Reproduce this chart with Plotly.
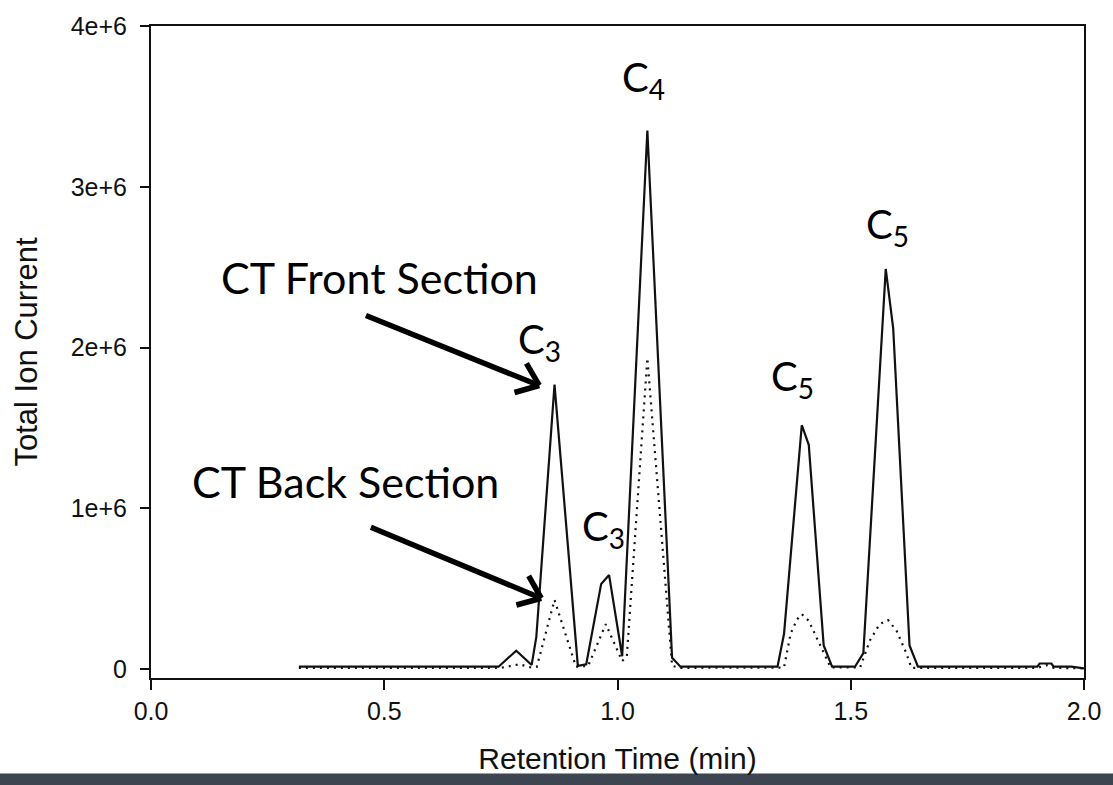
import math
import plotly.graph_objects as go

# ---------------- data ----------------
# CT Front Section (solid line): retention time (min), total ion current
front_time = [0.317, 0.745, 0.783, 0.816, 0.826, 0.865, 0.915, 0.933, 0.965, 0.982,
              1.010, 1.064, 1.117, 1.135, 1.343, 1.357, 1.395, 1.410, 1.442, 1.460,
              1.509, 1.527, 1.575, 1.591, 1.626, 1.644, 1.900, 1.905, 1.930, 1.935,
              1.973, 2.000]
front_tic = [1.5e4, 1.5e4, 1.15e5, 2.6e4, 2.0e5, 1.77e6, 2.0e4, 3.0e4, 5.3e5, 5.85e5,
             8.0e4, 3.35e6, 7.0e4, 1.5e4, 1.5e4, 2.2e5, 1.517e6, 1.395e6, 1.47e5, 1.5e4,
             1.5e4, 1.0e5, 2.489e6, 2.12e6, 1.47e5, 1.5e4, 1.5e4, 3.5e4, 3.5e4, 1.5e4,
             1.5e4, 5.0e3]

# CT Back Section (dotted line)
back_time = [0.317, 0.750, 0.790, 0.815, 0.827, 0.865, 0.911, 0.937, 0.975, 1.010,
             1.020, 1.064, 1.117, 1.135, 1.357, 1.371, 1.385, 1.395, 1.410, 1.432,
             1.457, 1.520, 1.541, 1.562, 1.580, 1.598, 1.619, 1.630, 1.900, 1.920,
             1.935, 2.000]
back_tic = [8.0e3, 8.0e3, 3.0e4, 1.0e4, 1.5e4, 4.3e5, 1.5e4, 2.0e4, 2.8e5, 5.0e4,
            8.0e4, 1.935e6, 2.0e4, 8.0e3, 1.0e4, 2.2e5, 3.1e5, 3.42e5, 3.0e5, 1.6e5,
            1.0e4, 1.0e4, 1.78e5, 2.8e5, 3.05e5, 2.4e5, 1.0e5, 8.0e3, 8.0e3, 2.5e4,
            8.0e3, 5.0e3]

x_tick_vals = [0.0, 0.5, 1.0, 1.5, 2.0]
x_tick_text = ["0.0", "0.5", "1.0", "1.5", "2.0"]
y_tick_vals = [0, 1e6, 2e6, 3e6, 4e6]
y_tick_text = ["0", "1e+6", "2e+6", "3e+6", "4e+6"]

# ---------------- layout geometry ----------------
W, H = 1113, 785
ML, MR, MT, MB = 151, 20, 16, 107
PW = W - ML - MR
PH = H - MT - MB


def paper(px, py):
    return (px - ML) / PW, (H - MB - py) / PH


fig = go.Figure()
fig.add_trace(go.Scatter(x=back_time, y=back_tic, mode="lines", name="CT Back Section",
                         line=dict(color="#111111", width=2.2, dash="2px,5px")))
fig.add_trace(go.Scatter(x=front_time, y=front_tic, mode="lines", name="CT Front Section",
                         line=dict(color="#111111", width=2.2)))

annotations = []
label_family = "Lato, Open Sans, sans-serif"


def add_text(text, px, py, size):
    x, y = paper(px, py)
    annotations.append(dict(text=text, x=x, y=y, xref="paper", yref="paper",
                            xanchor="center", yanchor="middle", showarrow=False,
                            font=dict(family=label_family, size=size, color="black")))


add_text("CT Front Section", 382, 271, 43)
add_text("CT Back Section", 347, 478, 43)
add_text("C<sub>3</sub>", 543, 336, 40)
add_text("C<sub>3</sub>", 608, 526, 40)
add_text("C<sub>4</sub>", 648, 70, 40)
add_text("C<sub>5</sub>", 799, 374, 40)
add_text("C<sub>5</sub>", 895, 220, 40)

shapes = []


def add_arrow(tx, ty, hx, hy, arm=26, ang=38):
    x0, y0 = paper(tx, ty)
    x1, y1 = paper(hx, hy)
    shapes.append(dict(type="line", xref="paper", yref="paper", x0=x0, y0=y0, x1=x1, y1=y1,
                       line=dict(color="black", width=5.5)))
    dx, dy = tx - hx, ty - hy
    n = math.hypot(dx, dy)
    dx, dy = dx / n, dy / n
    for s in (1, -1):
        a = math.radians(ang) * s
        rx = dx * math.cos(a) - dy * math.sin(a)
        ry = dx * math.sin(a) + dy * math.cos(a)
        ex, ey = paper(hx + rx * arm, hy + ry * arm)
        shapes.append(dict(type="line", xref="paper", yref="paper", x0=ex, y0=ey, x1=x1, y1=y1,
                           line=dict(color="black", width=5.5)))


add_arrow(368, 310, 543, 381)
add_arrow(373, 525, 545, 597)

# dark bar at the bottom of the slide
bx0, by0 = paper(-10, 790)
bx1, by1 = paper(W + 10, 775)
shapes.append(dict(type="rect", xref="paper", yref="paper", x0=bx0, y0=by0, x1=bx1, y1=by1,
                   fillcolor="#3d4551", line=dict(width=0), layer="above"))

axis_font = "Liberation Sans, Arial, sans-serif"
fig.update_layout(
    width=W, height=H,
    margin=dict(l=ML, r=MR, t=MT, b=MB),
    paper_bgcolor="white", plot_bgcolor="white",
    showlegend=False,
    font=dict(family=axis_font, color="black"),
    annotations=annotations,
    shapes=shapes,
    xaxis=dict(range=[0, 2], tickvals=x_tick_vals, ticktext=x_tick_text,
               showline=True, linewidth=2, linecolor="#111111", mirror=True,
               ticks="outside", ticklen=10, tickwidth=2, tickcolor="#111111",
               showgrid=False, zeroline=False,
               tickfont=dict(family=axis_font, size=25, color="#111111"),
               title=dict(text="Retention Time (min)", standoff=24,
                          font=dict(family=axis_font, size=30, color="#111111"))),
    yaxis=dict(range=[-0.0552e6, 4e6], tickvals=y_tick_vals, ticktext=y_tick_text,
               showline=True, linewidth=2, linecolor="#111111", mirror=True,
               ticks="outside", ticklen=9, tickwidth=2, tickcolor="#111111",
               showgrid=False, zeroline=False, ticklabelstandoff=8,
               tickfont=dict(family=axis_font, size=25, color="#111111"),
               title=dict(text="Total Ion Current", standoff=24,
                          font=dict(family=axis_font, size=31, color="#111111"))),
)

fig.write_html("out.html", config={"displayModeBar": False},
               post_script="document.body.style.margin='0';document.body.style.overflow='hidden';")
